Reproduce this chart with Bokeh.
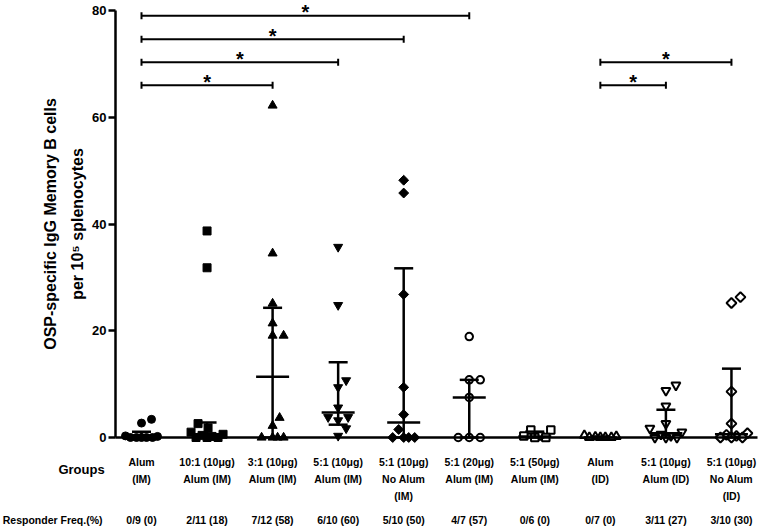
from bokeh.plotting import figure
from bokeh.models import LinearAxis, FixedTicker, Range1d
from bokeh.core.properties import value
from bokeh.embed import file_html
from bokeh.resources import INLINE

# ---------------- data ----------------
group_labels = ["Alum\n(IM)", "10:1 (10μg)\nAlum (IM)", "3:1 (10μg)\nAlum (IM)",
                "5:1 (10μg)\nAlum (IM)", "5:1 (10μg)\nNo Alum\n(IM)", "5:1 (20μg)\nAlum (IM)",
                "5:1 (50μg)\nAlum (IM)", "Alum\n(ID)", "5:1 (10μg)\nAlum (ID)",
                "5:1 (10μg)\nNo Alum\n(ID)"]
responder_freq = ["0/9 (0)", "2/11 (18)", "7/12 (58)", "6/10 (60)", "5/10 (50)",
                  "4/7 (57)", "0/6 (0)", "0/7 (0)", "3/11 (27)", "3/10 (30)"]

alum_im = [3.4, 2.7, 0.3, 0.2, 0, 0, 0, 0, 0]
r10_alum_im = [38.7, 31.8, 2.6, 1.8, 1.0, 0.6, 0.4, 0.2, 0, 0, 0]
r3_alum_im = [62.2, 34.5, 25.1, 21.4, 19.1, 19.1, 3.7, 2.2, 0, 0, 0, 0]
r5_alum_im = [35.7, 24.8, 10.7, 9.4, 5.6, 3.8, 3.8, 3.2, 1.7, 0.3]
r5_noalum_im = [48.2, 45.8, 26.8, 9.4, 4.3, 1.5, 0, 0, 0, 0]
r5_20_alum_im = [18.9, 10.8, 10.8, 7.5, 0, 0, 0]
r5_50_alum_im = [1.4, 1.4, 0.3, 0.3, 0, 0]
alum_id = [0.4, 0.2, 0.1, 0, 0, 0, 0]
r5_alum_id = [9.8, 8.8, 5.9, 2.6, 1.7, 1.0, 0.6, 0.3, 0, 0, 0]
r5_noalum_id = [26.3, 25.2, 8.6, 2.6, 0.8, 0.5, 0.3, 0, 0, 0]

medians = [0.2, 0.6, 11.4, 4.7, 2.8, 7.5, 0.2, 0.0, 0.8, 0.6]
q1 = [0.0, 0.0, 0.0, 2.4, 0.0, 0.0, 0.0, 0.0, 0.0, 0.0]
q3 = [1.1, 2.8, 24.3, 14.1, 31.7, 10.8, 1.1, 0.2, 5.2, 12.9]

sig_from = [1, 1, 1, 1, 8, 8]
sig_to = [3, 4, 5, 6, 9, 10]
sig_level = [66.0, 70.3, 74.6, 79.0, 66.0, 70.3]
sig_text = ["*", "*", "*", "*", "*", "*"]

y_ticks = [0, 20, 40, 60, 80]

all_groups = [alum_im, r10_alum_im, r3_alum_im, r5_alum_im, r5_noalum_im,
              r5_20_alum_im, r5_50_alum_im, alum_id, r5_alum_id, r5_noalum_id]

# ---------------- layout helpers (pixel geometry) ----------------
W, H = 762, 529
X0, DX = 141.0, 65.55          # pixel of group 1, pixels per group
Y0, SY = 437.0, (437.0 - 10.0) / 80.0   # pixel of y=0, pixels per unit


def xd(px):
    return 1 + (px - X0) / DX


def yd(py):
    return (Y0 - py) / SY


def swarm(vals, D=10.5, maxhalf=16):
    """Greedy scatter-dot layout: nearest free slot to the centre, overlapping
    (max-separation) when the row is full."""
    n = len(vals)
    order = sorted(range(n), key=lambda i: vals[i])
    cands = sorted(range(-maxhalf, maxhalf + 1), key=lambda c: (abs(c), -c))
    placed = []
    offs = [0.0] * n
    for i in order:
        ypx = vals[i] * SY
        best, best_d = None, -1.0
        chosen = None
        for c in cands:
            d = min([((c - px) ** 2 + (ypx - py) ** 2) ** 0.5 for px, py in placed] or [1e9])
            if d >= D:
                chosen = c
                break
            if d > best_d + 1e-9:
                best, best_d = c, d
        if chosen is None:
            chosen = best
        offs[i] = chosen
        placed.append((chosen, ypx))
    return [o / DX for o in offs]


FONT = value("Liberation Sans")

p = figure(width=W, height=H,
           x_range=Range1d(xd(0), xd(W)), y_range=Range1d(yd(H), yd(0)),
           x_axis_type=None, y_axis_type=None, toolbar_location=None,
           output_backend="svg", min_border=0, outline_line_color=None)
p.background_fill_color = "white"
p.border_fill_color = "white"

# axes
yaxis = LinearAxis(fixed_location=xd(115), ticker=FixedTicker(ticks=y_ticks), bounds=(0, 80))
yaxis.axis_line_width = 2.5
yaxis.axis_line_color = "black"
yaxis.major_tick_line_width = 2.5
yaxis.major_tick_out = 7
yaxis.major_tick_in = 0
yaxis.minor_tick_line_color = None
yaxis.major_label_standoff = 2
yaxis.major_label_text_font = "Liberation Sans"
yaxis.major_label_text_font_style = "bold"
yaxis.major_label_text_font_size = "13px"
yaxis.major_label_text_color = "black"
yaxis.axis_label = "OSP-specific IgG Memory B cells\nper 10\u2075 splenocytes"
yaxis.axis_label_text_font = "Liberation Sans"
yaxis.axis_label_text_font_style = "bold"
yaxis.axis_label_text_font_size = "16px"
yaxis.axis_label_text_color = "black"
yaxis.axis_label_standoff = 3
yaxis.axis_label_text_line_height = 1.6
p.add_layout(yaxis, "left")

xaxis = LinearAxis(fixed_location=0, ticker=FixedTicker(ticks=[]), bounds=(xd(115), xd(757)))
xaxis.axis_line_width = 2.5
xaxis.axis_line_color = "black"
xaxis.major_label_text_font_size = "0px"
xaxis.minor_tick_line_color = None
xaxis.major_tick_line_color = None
p.add_layout(xaxis, "below")

# points
styles = [
    dict(marker="circle", size=8, angle=0.0, fill_color="black", line_width=1),
    dict(marker="square", size=8, angle=0.0, fill_color="black", line_width=1),
    dict(marker="triangle", size=9, angle=0.0, fill_color="black", line_width=1),
    dict(marker="inverted_triangle", size=9, angle=0.0, fill_color="black", line_width=1),
    dict(marker="square", size=7, angle=0.785398, fill_color="black", line_width=1),
    dict(marker="circle", size=7.5, angle=0.0, fill_color="white", line_width=2),
    dict(marker="square", size=7.5, angle=0.0, fill_color="white", line_width=2),
    dict(marker="triangle", size=9, angle=0.0, fill_color="white", line_width=2),
    dict(marker="inverted_triangle", size=9, angle=0.0, fill_color="white", line_width=2),
    dict(marker="square", size=7, angle=0.785398, fill_color="white", line_width=2),
]

for i, vals in enumerate(all_groups):
    offs = swarm(vals)
    xs = [i + 1 + o for o in offs]
    st = styles[i]
    p.scatter(xs, vals, marker=st["marker"], size=st["size"], angle=st["angle"],
              fill_color=st["fill_color"], line_color="black", line_width=st["line_width"])

# median + interquartile range
gx = [i + 1 for i in range(len(all_groups))]
cap = 9.5 / DX
med = 16.5 / DX
p.segment(x0=gx, y0=q1, x1=gx, y1=q3, line_color="black", line_width=2.5)
p.segment(x0=[g - cap for g in gx], y0=q3, x1=[g + cap for g in gx], y1=q3,
          line_color="black", line_width=2.5)
p.segment(x0=[g - cap for g in gx], y0=q1, x1=[g + cap for g in gx], y1=q1,
          line_color="black", line_width=2.5)
p.segment(x0=[g - med for g in gx], y0=medians, x1=[g + med for g in gx], y1=medians,
          line_color="black", line_width=2.5)

# significance brackets
tick_h = 3.5 / SY
p.segment(x0=sig_from, y0=sig_level, x1=sig_to, y1=sig_level, line_color="black", line_width=2)
p.segment(x0=sig_from, y0=[l - tick_h for l in sig_level], x1=sig_from,
          y1=[l + tick_h for l in sig_level], line_color="black", line_width=2)
p.segment(x0=sig_to, y0=[l - tick_h for l in sig_level], x1=sig_to,
          y1=[l + tick_h for l in sig_level], line_color="black", line_width=2)
p.text(x=[(a + b) / 2 for a, b in zip(sig_from, sig_to)],
       y=[l + 3.4 / SY for l in sig_level], text=sig_text,
       text_align="center", text_baseline="middle", text_font=FONT,
       text_font_style="bold", text_font_size="20px", text_color="black")

# category labels
p.text(x=gx, y=[yd(455)] * len(gx), text=group_labels, text_align="center",
       text_baseline="top", text_font=FONT, text_font_style="bold",
       text_font_size="10.5px", text_line_height=1.43, text_color="black")
p.text(x=gx, y=[yd(519)] * len(gx), text=responder_freq, text_align="center",
       text_baseline="middle", text_font=FONT, text_font_style="bold",
       text_font_size="10.5px", text_color="black")
p.text(x=[xd(81)], y=[yd(469)], text=["Groups"], text_align="center",
       text_baseline="middle", text_font=FONT, text_font_style="bold",
       text_font_size="13px", text_color="black")
p.text(x=[xd(102)], y=[yd(519)], text=["Responder Freq.(%)"], text_align="right",
       text_baseline="middle", text_font=FONT, text_font_style="bold",
       text_font_size="10.5px", text_color="black")

open("out.html", "w").write(file_html(p, INLINE))
